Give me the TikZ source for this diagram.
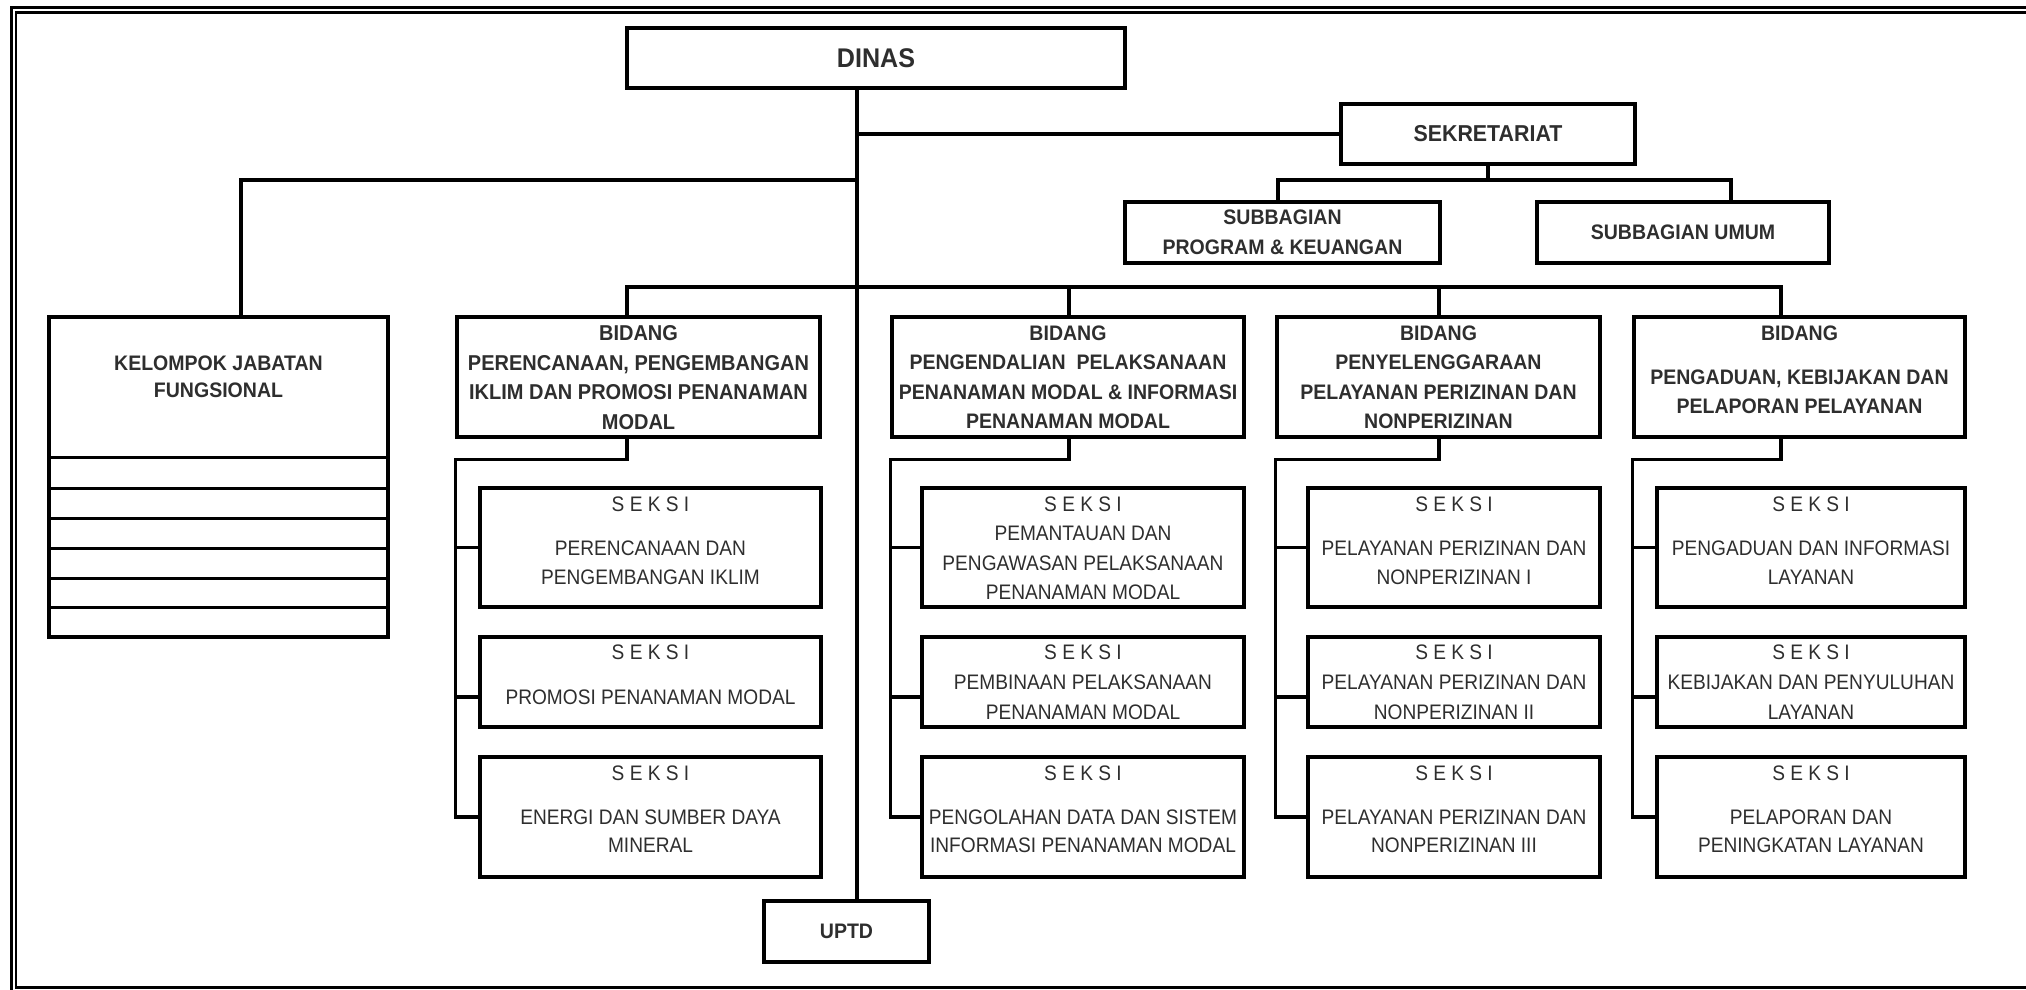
\documentclass[tikz,border=0pt]{standalone}
\usepackage{fontspec}
\usetikzlibrary{calc}
\newfontfamily\hfont[FakeStretch=0.93]{Liberation Sans}
\newfontfamily\rfont[FakeStretch=0.91]{Liberation Sans}
\definecolor{tx}{HTML}{2E2E2E}
\tikzset{
  ln/.style={line width=3.2pt, line cap=rect},
  box/.style={draw, line width=3.2pt, inner sep=0pt, text=tx, align=center,
    font=\hfont\bfseries\fontsize{21}{29.5}\selectfont},
  hd/.style={inner sep=0pt, anchor=north, text=tx, align=center,
    font=\hfont\bfseries\fontsize{21}{29.5}\selectfont},
  sk/.style={inner sep=0pt, anchor=north, text=tx, align=center,
    font=\rfont\fontsize{21}{29.5}\selectfont},
}
\begin{document}
\begin{tikzpicture}[x=1pt,y=-1pt]
\useasboundingbox (0,0) rectangle (2026,989);
\clip (0,0) rectangle (2026,989);
% frame
\draw[line width=3pt] (11.5,1100) -- (11.5,7.3) -- (2100,7.3);
\draw[line width=2.8pt] (2100,12.3) -- (15.9,12.3) -- (15.9,987.5) -- (2100,987.5);

% top level boxes
\node[box, minimum width=498pt, minimum height=60pt, font=\hfont\bfseries\fontsize{27}{30}\selectfont] (dinas) at (876,58) {DINAS};
\node[box, minimum width=294pt, minimum height=60pt, font=\hfont\bfseries\fontsize{23}{28}\selectfont] (sek) at (1488,134) {SEKRETARIAT};
\node[box, minimum width=315pt, minimum height=61pt] (sp) at (1282.5,232.5) {SUBBAGIAN\\PROGRAM \& KEUANGAN};
\node[box, minimum width=292pt, minimum height=61pt] (su) at (1683,232.5) {SUBBAGIAN UMUM};
\node[box, minimum width=165pt, minimum height=61pt] (uptd) at (846.5,931.5) {UPTD};

% kelompok jabatan fungsional
\node[box, minimum width=339pt, minimum height=320pt] (kel) at (218.5,477) {};
\node[hd] (kelt) at (218.5,355.5) {KELOMPOK JABATAN\\[-2.5pt]FUNGSIONAL};
\foreach \yy in {457.7,488.3,518.3,548.3,578.3,607.3}
  \draw[line width=3.2pt] (kel.west |- 0,\yy) -- (kel.east |- 0,\yy);

% bidang boxes
\node[box, minimum width=363pt, minimum height=120pt] (b1) at (638.5,377) {};
\node[box, minimum width=352pt, minimum height=120pt] (b2) at (1068,377) {};
\node[box, minimum width=323pt, minimum height=120pt] (b3) at (1438.5,377) {};
\node[box, minimum width=331pt, minimum height=120pt] (b4) at (1799.5,377) {};
\node[hd, font=\hfont\bfseries\fontsize{21.5}{29.5}\selectfont] (b1t) at (638.5,325.5) {BIDANG\\PERENCANAAN, PENGEMBANGAN\\IKLIM DAN PROMOSI PENANAMAN\\MODAL};
\node[hd] (b2t) at (1068,325.5) {BIDANG\\PENGENDALIAN\ \ PELAKSANAAN\\PENANAMAN MODAL \& INFORMASI\\PENANAMAN MODAL};
\node[hd] (b3t) at (1438.5,325.5) {BIDANG\\PENYELENGGARAAN\\PELAYANAN PERIZINAN DAN\\NONPERIZINAN};
\node[hd] (b4t) at (1799.5,325.5) {BIDANG\\[14.5pt]PENGADUAN, KEBIJAKAN DAN\\PELAPORAN PELAYANAN};

% seksi boxes
\foreach \n/\cx/\w in {1/650.5/341, 2/1083/322, 3/1454/292, 4/1811/308} {
  \node[box, minimum width=\w pt, minimum height=119pt] (b\n s1) at (\cx,547.5) {};
  \node[box, minimum width=\w pt, minimum height=90pt] (b\n s2) at (\cx,682) {};
  \node[box, minimum width=\w pt, minimum height=120pt] (b\n s3) at (\cx,817) {};
}
\node[sk] (b1s1t) at (650.5,496.4) {S E K S I\\[14.5pt]PERENCANAAN DAN\\PENGEMBANGAN IKLIM};
\node[sk] (b1s2t) at (650.5,644.4) {S E K S I\\[15.5pt]PROMOSI PENANAMAN MODAL};
\node[sk] (b1s3t) at (650.5,765.4) {S E K S I\\[14.5pt]ENERGI DAN SUMBER DAYA\\[-1.5pt]MINERAL};
\node[sk] (b2s1t) at (1083,496.4) {S E K S I\\PEMANTAUAN DAN\\PENGAWASAN PELAKSANAAN\\PENANAMAN MODAL};
\node[sk] (b2s2t) at (1083,644.4) {S E K S I\\[1pt]PEMBINAAN PELAKSANAAN\\PENANAMAN MODAL};
\node[sk] (b2s3t) at (1083,765.4) {S E K S I\\[14.5pt]PENGOLAHAN DATA DAN SISTEM\\[-1.5pt]INFORMASI PENANAMAN MODAL};
\node[sk] (b3s1t) at (1454,496.4) {S E K S I\\[14.5pt]PELAYANAN PERIZINAN DAN\\NONPERIZINAN I};
\node[sk] (b3s2t) at (1454,644.4) {S E K S I\\[1pt]PELAYANAN PERIZINAN DAN\\NONPERIZINAN II};
\node[sk] (b3s3t) at (1454,765.4) {S E K S I\\[14.5pt]PELAYANAN PERIZINAN DAN\\[-1.5pt]NONPERIZINAN III};
\node[sk] (b4s1t) at (1811,496.4) {S E K S I\\[14.5pt]PENGADUAN DAN INFORMASI\\LAYANAN};
\node[sk] (b4s2t) at (1811,644.4) {S E K S I\\[1pt]KEBIJAKAN DAN PENYULUHAN\\LAYANAN};
\node[sk] (b4s3t) at (1811,765.4) {S E K S I\\[14.5pt]PELAPORAN DAN\\[-1.5pt]PENINGKATAN LAYANAN};

% connectors: top level
\coordinate (jd) at (857,134);
\coordinate (jk) at (857,180);
\coordinate (kx) at (241,180);
\draw[ln] (dinas.south -| jd) -- (uptd.north -| jd);
\draw[ln] (jd) -- (sek.west);
\draw[ln] (jk) -- (kx) -- (kel.north -| kx);
\coordinate (spx) at (1278,180);
\coordinate (sux) at (1731,180);
\draw[ln] (sek.south) -- (sek.south |- spx);
\draw[ln] (sp.north -| spx) -- (spx) -- (sux) -- (su.north -| sux);

% connectors: bidang bar
\coordinate (s1) at (627,287);
\coordinate (s2) at (1069,287);
\coordinate (s3) at (1439,287);
\coordinate (s4) at (1781,287);
\draw[ln] (s1) -- (s4);
\foreach \n in {1,2,3,4} {
  \draw[ln] (s\n) -- (b\n.north -| s\n);
  \coordinate (h\n) at ($(b\n.south -| s\n)+(0,21)$);
  \draw[ln] (b\n.south -| s\n) -- (h\n) -- (h\n -| b\n.west) -- (b\n.west |- b\n s3.west);
  \draw[ln] (b\n.west |- b\n s1.west) -- (b\n s1.west);
  \draw[ln] (b\n.west |- 0,697) -- (b\n s2.west |- 0,697);
  \draw[ln] (b\n.west |- b\n s3.west) -- (b\n s3.west);
}
\end{tikzpicture}
\end{document}
